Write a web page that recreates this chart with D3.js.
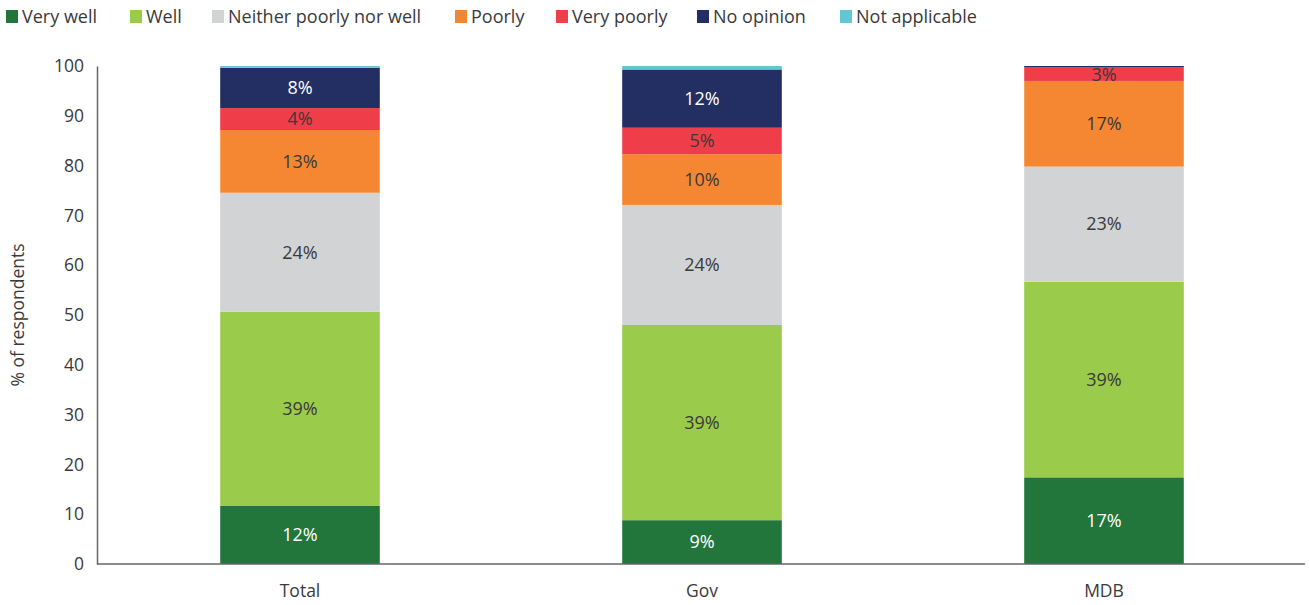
<!DOCTYPE html>
<html><head><meta charset="utf-8">
<script src="https://cdn.jsdelivr.net/npm/d3@7"></script>
<style>body{margin:0;background:#fff;} text{font-family:"Open Sans",sans-serif;}</style>
</head><body><svg id="c" width="1309" height="605"></svg>
<script>
const categories = ["Total", "Gov", "MDB"];
const seriesNames = ["Very well", "Well", "Neither poorly nor well", "Poorly", "Very poorly", "No opinion", "Not applicable"];
const veryWell = [11.65, 8.8, 17.4];
const well = [39.0, 39.2, 39.3];
const neither = [23.9, 24.1, 23.1];
const poorly = [12.6, 10.2, 17.2];
const veryPoorly = [4.4, 5.3, 2.7];
const noOpinion = [8.1, 11.7, 0.3];
const notApplicable = [0.35, 0.7, 0.0];
const yTicks = [0, 10, 20, 30, 40, 50, 60, 70, 80, 90, 100];
const colors = ["#23763b", "#9bcb4a", "#d1d3d4", "#f58733", "#ef3e4a", "#232f62", "#63c7d3"];
const labelColors = ["#fff", "#3a3a3a", "#3a3a3a", "#3a3a3a", "#3a3a3a", "#fff", "#3a3a3a"];

(function () {
const seriesValues = [veryWell, well, neither, poorly, veryPoorly, noOpinion, notApplicable];
const keys = seriesNames;
const table = categories.map((c, i) => {
  const o = {cat: c};
  keys.forEach((k, j) => o[k] = seriesValues[j][i]);
  return o;
});
const stacked = d3.stack().keys(keys)(table);

const svg = d3.select("#c");
const mLeft = 97, mRight = 1305, mTop = 66, mBottom = 564;
const x = d3.scaleBand().domain(categories).range([mLeft + 2, mRight]).paddingInner(0.603).paddingOuter(0.3015);
const y = d3.scaleLinear().domain([0, 100]).range([mBottom, mTop]);

const g = svg.append("g");
stacked.forEach((s, j) => {
  g.selectAll(null).data(s).enter().append("rect")
    .attr("x", d => x(d.data.cat))
    .attr("width", x.bandwidth())
    .attr("y", d => y(d[1]))
    .attr("height", d => y(d[0]) - y(d[1]))
    .attr("fill", colors[j]);
});
stacked.forEach((s, j) => {
  g.selectAll(null).data(s.filter(d => d[1] - d[0] >= 1.5)).enter().append("text")
    .attr("x", d => x(d.data.cat) + x.bandwidth() / 2)
    .attr("y", d => (y(d[0]) + y(d[1])) / 2)
    .attr("dy", "0.35em")
    .attr("text-anchor", "middle")
    .attr("font-size", 18)
    .attr("fill", labelColors[j])
    .text(d => Math.round(d[1] - d[0]) + "%");
});

const x0 = d3.scaleBand().domain(categories).range([mLeft, mRight]);
const ya = svg.append("g").attr("transform", `translate(${mLeft},0)`)
  .call(d3.axisLeft(y).tickValues(yTicks).tickSize(0).tickPadding(13));
ya.select(".domain").attr("stroke", "#666").attr("stroke-width", 1.5);
ya.selectAll("text").attr("font-size", 17.5).attr("fill", "#3a3a3a").style("font-family", "Open Sans");

const xa = svg.append("g").attr("transform", `translate(0,${mBottom})`)
  .call(d3.axisBottom(x).tickSize(0).tickPadding(21));
xa.select(".domain").attr("stroke", "#666").attr("stroke-width", 1.5).attr("d", `M${mLeft},0H${mRight}`);
xa.selectAll("text").attr("font-size", 17.5).attr("fill", "#3a3a3a").style("font-family", "Open Sans");

svg.append("text")
  .attr("transform", `translate(24,${(mTop + mBottom) / 2}) rotate(-90)`)
  .attr("text-anchor", "middle")
  .attr("font-size", 17.5).attr("fill", "#3a3a3a")
  .text("% of respondents");

const legX = [6, 130, 212, 455, 556, 697, 840];
const leg = svg.append("g");
seriesNames.forEach((n, j) => {
  leg.append("rect").attr("x", legX[j]).attr("y", 10).attr("width", 12).attr("height", 13).attr("fill", colors[j]);
  leg.append("text").attr("x", legX[j] + 16).attr("y", 17).attr("dy", "0.35em")
    .attr("font-size", 18).attr("fill", "#3a3a3a").text(n);
});
})();
</script></body></html>
